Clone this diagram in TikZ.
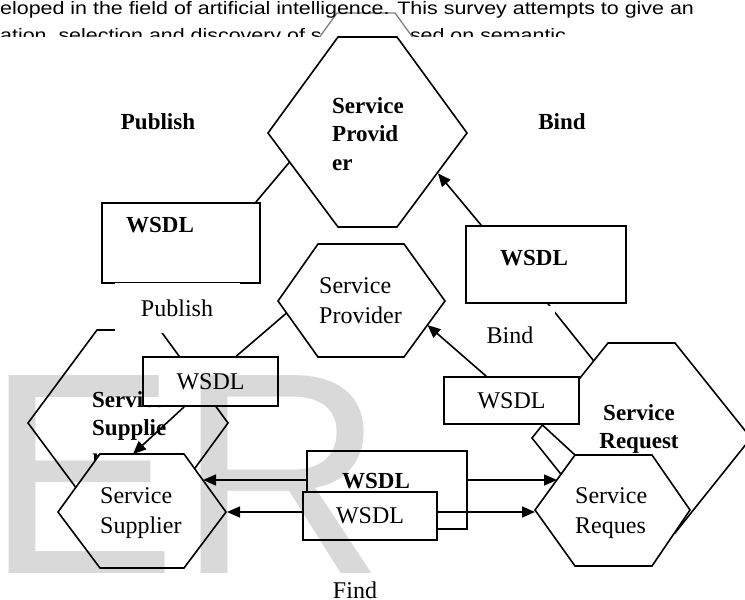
\documentclass[tikz,border=0pt]{standalone}
\usepackage{fontspec}
\setmainfont{Liberation Serif}
\newfontfamily\headfont{Liberation Sans}
\usetikzlibrary{positioning, arrows.meta}

\begin{document}
\begin{tikzpicture}[x=1pt,y=-1pt]
                \tikzset{hexa/.style = {draw, line width=1.6pt, fill=white, line join=miter}}
                \tikzset{box/.style = {draw, line width=1.6pt, fill=white, inner sep=0pt}}
                \tikzset{plain/.style = {font=\fontsize{24}{30.5}\selectfont, inner sep=0pt}}
                \tikzset{bold/.style = {font=\fontsize{23}{28.5}\selectfont\bfseries, inner sep=0pt}}
                \tikzset{lbl/.style = {plain, fill=white}}
                \tikzset{c/.style = {line width=1.6pt}}
                \tikzset{smalledge/.style = {-{Triangle[length=13pt,width=11pt]}, line width=1.6pt}}

                \useasboundingbox (0,0) rectangle (745,600);
                \clip (0,0) rectangle (745,600);

                % page text above the figure
                \begin{scope}
                \clip (0,0) rectangle (745,36.5);
                \node[anchor=base west, inner sep=0pt] (txtb) at (0,41) {\headfont\fontsize{18}{20}\selectfont\scalebox{1.19}[1]{ation, selection and discovery of services}};
                \node[anchor=base west, inner sep=0pt] (txtc) at (386,41) {\headfont\fontsize{18}{20}\selectfont\scalebox{1.19}[1]{based on semantic}};
                \draw[gray, line width=1.3pt, fill=white] (300,64) -- (337,13) -- (395,13) -- (432,64);
                \end{scope}
                \node[anchor=base west, inner sep=0pt] (txta) at (0,14) {\headfont\fontsize{18}{20}\selectfont\scalebox{1.19}[1]{eloped in the field of artificial intelligence. This survey attempts to give an}};

                % bold figure
                \draw[hexa] (268,133) -- (338,37) -- (397,37) -- (467,133) -- (397,227) -- (338,227) -- cycle;
                \draw[hexa] (532,438) -- (608,343) -- (675,343) -- (751,438) -- (675,533) -- (608,533) -- cycle;
                \draw[hexa] (28,423) -- (97,330) -- (160,330) -- (228,423) -- (160,516) -- (97,516) -- cycle;

                \node[bold, align=left, anchor=north west] (provbig) at (332,97) {Service\\Provid\\er};
                \node[bold, align=center, anchor=north] (reqbig) at (639,404) {Service\\Request};
                \node[bold, align=left, anchor=north west] (supbig) at (92,391) {Service\\Supplie\\r};
                \node[bold] (pubbig) at (158,122) {Publish};
                \node[bold] (bindbig) at (562,122) {Bind};

                \node[box, minimum width=158, minimum height=80] (wsdla) at (181,243) {};
                \node[bold] (wsdlatxt) at (160,225) {WSDL};
                \node[box, minimum width=160, minimum height=77] (wsdlb) at (546,264.5) {};
                \node[bold] (wsdlbtxt) at (534,258) {WSDL};

                \coordinate (pubin) at (289.6,162);
                \coordinate (bindin) at (438,173.4);
                \coordinate (reqin) at (593.7,360.9);
                \draw[c] (pubin) -- ([xshift=-5pt]wsdla.north east);
                \draw[smalledge] ([xshift=16pt]wsdlb.north west) -- (bindin);
                \draw[c] ([xshift=2pt]wsdlb.south) -- (reqin);

                % labels
                \node[lbl, minimum width=125, minimum height=50] (pubsm) at (177,308) {Publish};
                \node[lbl, minimum width=90, minimum height=58] (bindsm) at (510,335) {Bind};
                \node[plain] (findsm) at (355,590) {Find};

                % plain figure
                \draw[hexa] (278,301) -- (318,244) -- (404,244) -- (445,301) -- (404,357) -- (318,357) -- cycle;
                \draw[hexa] (58,512) -- (100,454) -- (184,454) -- (226,512) -- (184,568) -- (100,568) -- cycle;
                \draw[hexa] (535,510) -- (575,455) -- (652,455) -- (690,510) -- (652,566) -- (575,566) -- cycle;

                \node[plain, align=left, anchor=north west] (provsm) at (319,277) {Service\\Provider};
                \node[plain, align=left, anchor=north west] (supsm) at (100,487) {Service\\Supplier};
                \node[plain, align=left, anchor=north west] (reqsm) at (575,487) {Service\\Reques};

                \node[box, plain, minimum width=135, minimum height=49] (wsdld) at (210.5,381.5) {WSDL};
                \node[box, plain, minimum width=135, minimum height=47] (wsdle) at (511.5,400.5) {WSDL};
                \node[box, minimum width=160, minimum height=78] (wsdlc) at (387,490) {};
                \node[bold] (wsdlctxt) at (376,481) {WSDL};
                \node[box, plain, minimum width=134, minimum height=48] (wsdlf) at (370,516) {WSDL};

                \coordinate (pubpt) at (286.6,313);
                \coordinate (suppt) at (133,454);
                \coordinate (bindpt) at (427.4,325);
                \coordinate (reqpt) at (575,455);
                \draw[c] ([xshift=94pt]wsdld.north west) -- (pubpt);
                \draw[smalledge] ([xshift=42pt]wsdld.south west) -- (suppt);
                \draw[smalledge] ([xshift=43pt]wsdle.north west) -- (bindpt);
                \draw[c] ([xshift=99pt]wsdle.south west) -- (reqpt);

                % find arrows
                \draw[smalledge] ([yshift=10pt]wsdlc.west) -- (203,480);
                \draw[smalledge] ([yshift=10pt]wsdlc.east) -- (557,480);
                \draw[smalledge] ([yshift=4pt]wsdlf.west) -- (227,512);
                \draw[smalledge] ([yshift=4pt]wsdlf.east) -- (535,512);

                % watermark
                \node[anchor=base west, inner sep=0pt, text=black, text opacity=0.15] (mark) at (-14.7,573) {\headfont\fontsize{287.7}{290}\selectfont ER};

\end{tikzpicture}
\end{document}
